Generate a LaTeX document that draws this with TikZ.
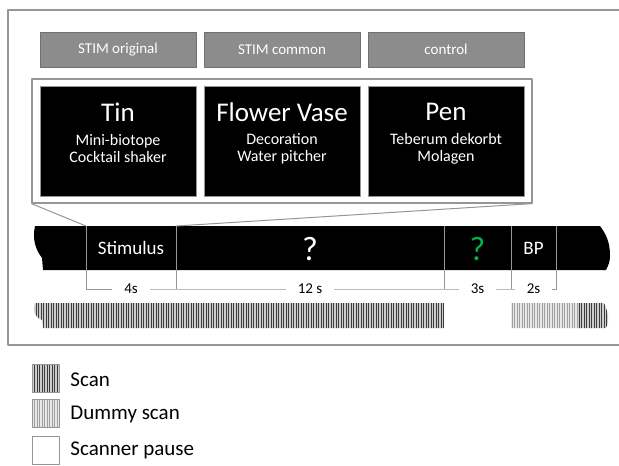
\documentclass[tikz,border=0pt]{standalone}
\usepackage{fontspec}
\setmainfont{Carlito}
\definecolor{hdgray}{RGB}{140,140,140}
\definecolor{rulegray}{RGB}{150,150,150}
\definecolor{scanbg}{RGB}{205,205,205}
\definecolor{scanfg}{RGB}{60,60,60}
\definecolor{dumbg}{RGB}{232,232,232}
\definecolor{dumfg}{RGB}{160,160,160}
\definecolor{qgreen}{RGB}{0,176,80}
\tikzset{
  hdbox/.style={draw=hdgray!80!black, fill=hdgray, text=white, minimum width=78pt, minimum height=17.5pt, inner sep=0pt, font=\fontsize{7.5}{9}\selectfont},
  objbox/.style={draw=rulegray, fill=black, minimum width=78pt, minimum height=55pt, inner sep=0pt},
  objtitle/.style={text=white, inner sep=0pt, font=\fontsize{13.5}{15}\selectfont},
  objsub/.style={text=white, inner sep=0pt, align=center, font=\fontsize{8}{8.5}\selectfont},
  bandtxt/.style={text=white, inner sep=0pt, font=\fontsize{9.5}{11}\selectfont},
  quest/.style={inner sep=0pt, font=\fontsize{17}{19}\selectfont},
  durlbl/.style={fill=white, inner xsep=6pt, inner ysep=1pt, font=\fontsize{7.5}{8}\selectfont},
  thin rule/.style={draw=rulegray, line width=0.5pt},
  scanline/.style={draw=scanfg, line width=0.45pt},
  dumline/.style={draw=dumfg, line width=0.45pt},
  legbox/.style={draw=rulegray, line width=0.5pt, minimum width=13.5pt, minimum height=14pt, inner sep=0pt},
  legtxt/.style={anchor=west, inner sep=0pt, font=\fontsize{10.5}{12}\selectfont},
}
\begin{document}
\begin{tikzpicture}[x=0.5pt, y=-0.5pt, line join=round, >=stealth]
\useasboundingbox (0,0) rectangle (619,465);
% frame, open to the right
\draw[rulegray, line width=0.7pt] (619,10) -- (8,10) -- (8,345) -- (619,345);
% condition headers and example objects
\foreach \n/\x/\t in {orig/118/STIM original, comm/282/STIM common, ctrl/446/control}
  \node[hdbox] (hd\n) at (\x,49.5) {\t};
\node[draw=rulegray, line width=0.6pt, minimum width=250pt, minimum height=62pt, inner sep=0pt] (grp) at (282,141) {};
\foreach \n/\x/\t/\s in {tin/118/Tin/{Mini-biotope\\Cocktail shaker}, vase/282/Flower Vase/{Decoration\\Water pitcher}, pen/446/Pen/{Teberum dekorbt\\Molagen}}
{
  \node[objbox] (obj\n) at (\x,141) {};
  \node[objtitle] (ttl\n) at (\x,112) {\t};
  \node[objsub] (sub\n) at (\x,149) {\s};
}
% time line
\path
(86,226) coordinate (t1) (176,226) coordinate (t2) (444,226) coordinate (t3) (511,226) coordinate (t4) (556,226) coordinate (t5)
(86,270) coordinate (b1) (176,270) coordinate (b2) (444,270) coordinate (b3) (511,270) coordinate (b4) (556,270) coordinate (b5)
(86,289) coordinate (k1) (176,289) coordinate (k2) (444,289) coordinate (k3) (511,289) coordinate (k4) (556,289) coordinate (k5)
;
\fill[black] (35,226) -- (600,226) .. controls (606,234) and (610,242) .. (610,256)
  .. controls (610,262) and (608,266) .. (606,270)
  -- (43,270) -- (42,258) .. controls (36,250) and (32,240) .. (35,226) -- cycle;
\foreach \i in {1,...,5}
  \draw[thin rule] (t\i) -- (b\i);
\draw[thin rule] (grp.south west) -- (t1);
\draw[thin rule] (grp.south east) -- (t2);
\node[bandtxt] (stim) at (131,248) {Stimulus};
\node[quest, text=white] (qa) at (310,249) {?};
\node[quest, text=qgreen] (qb) at (477.5,249) {?};
\node[bandtxt] (bp) at (533.5,248) {BP};
% durations
\draw[thin rule] (b1) -- (k1) -- node[durlbl]{4s} (k2) -- node[durlbl]{12 s} (k3)
  -- node[durlbl]{3s} (k4) -- node[durlbl]{2s} (k5) -- (b5);
\foreach \i in {2,3,4}
  \draw[thin rule] (b\i) -- (k\i);
% scans
\begin{scope}
\clip (35,303) .. controls (32,312) and (36,318) .. (42,320) -- (43,328) -- (444,328) -- (444,303) -- cycle;
\fill[scanbg] (30,300) rectangle (446,330);
\foreach \x in {33.5,36,...,444}
  \draw[scanline] (\x,300) -- (\x,330);
\end{scope}
\begin{scope}
\clip (511,303) -- (511,328) -- (606,328) .. controls (610,322) and (608,310) .. (604,303) -- cycle;
\fill[dumbg] (510,300) rectangle (578,330);
\fill[scanbg] (578,300) rectangle (612,330);
\foreach \x in {512,514.5,...,577}
  \draw[dumline] (\x,300) -- (\x,330);
\foreach \x in {579,581.5,...,610}
  \draw[scanline] (\x,300) -- (\x,330);
\end{scope}
% legend
\node[legbox, fill=scanbg, path picture={
  \foreach \d in {1.25,2.5,...,13}
    \draw[scanline] ([xshift=\d pt]path picture bounding box.north west) -- ([xshift=\d pt]path picture bounding box.south west);
  }] (legscan) at (45.5,378.5) {};
\node[legbox, fill=dumbg, path picture={
  \foreach \d in {1.25,2.5,...,13}
    \draw[dumline] ([xshift=\d pt]path picture bounding box.north west) -- ([xshift=\d pt]path picture bounding box.south west);
  }] (legdum) at (45.5,413.5) {};
\node[legbox, fill=white] (legpause) at (45.5,450) {};
\node[legtxt] (txtscan) at (70,380) {Scan};
\node[legtxt] (txtdum) at (70,414) {Dummy scan};
\node[legtxt] (txtpause) at (70,450) {Scanner pause};
\end{tikzpicture}
\end{document}
